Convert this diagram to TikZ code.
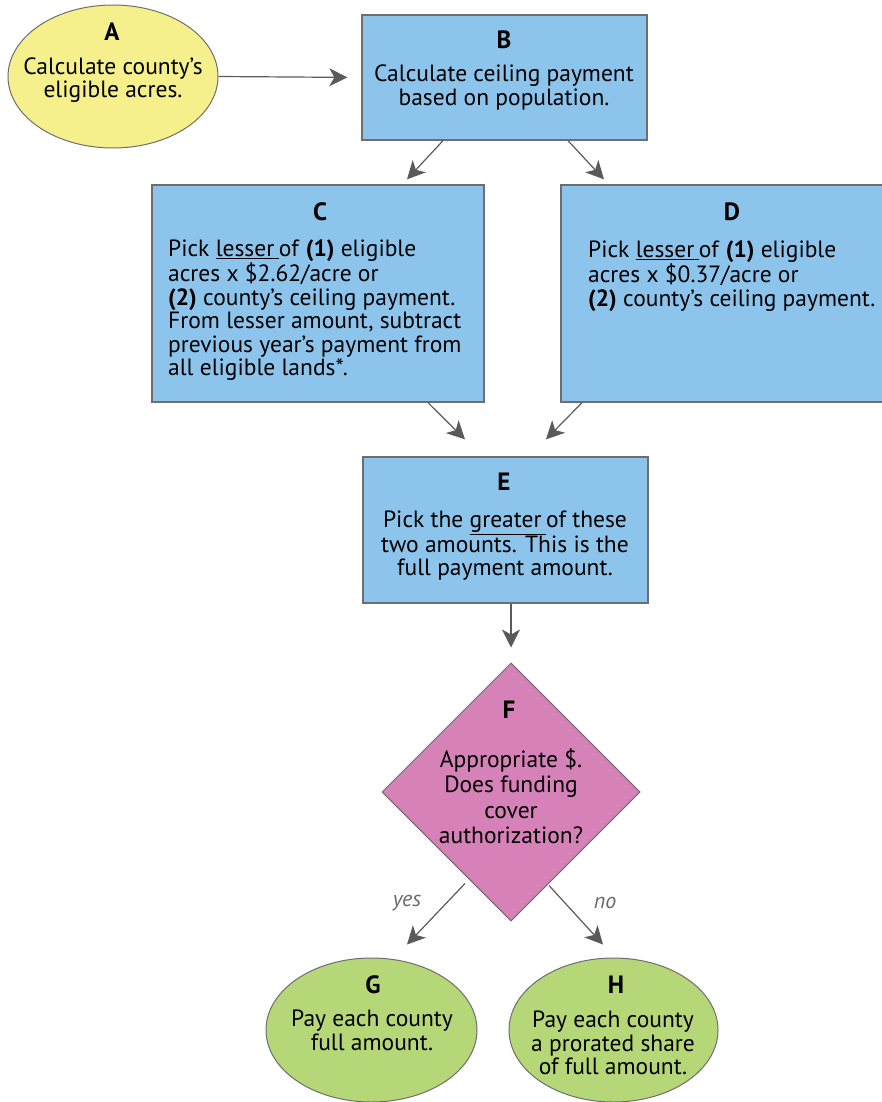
\documentclass[tikz,border=0pt]{standalone}
\usepackage{fontspec}
\setmainfont{PT Sans}
\usetikzlibrary{arrows.meta,shapes.geometric}
\definecolor{yel}{HTML}{F5F08C}
\definecolor{blu}{HTML}{8CC4EC}
\definecolor{pnk}{HTML}{D681B8}
\definecolor{grn}{HTML}{B5D778}
\definecolor{edgegray}{HTML}{6E6E6E}
\definecolor{arrgray}{HTML}{5A5A5A}
\definecolor{lblgray}{HTML}{6A6A6A}
\newcommand{\ul}[1]{\underline{#1\hspace{0.2em}}}
\begin{document}
\begin{tikzpicture}[x=1pt,y=-1pt,
  shapebox/.style={draw=edgegray,line width=1.3pt,fill=blu,rectangle,inner sep=0pt},
  oval/.style={draw=edgegray,line width=1pt,ellipse,inner sep=0pt},
  title/.style={font=\fontsize{25}{28}\selectfont\bfseries,inner sep=0pt},
  body/.style={font=\fontsize{23.5}{23.5}\selectfont,inner sep=0pt},
  conn/.style={draw=arrgray,line width=1.2pt,-{Stealth[length=18pt,width=18pt,inset=5pt]}},
  lbl/.style={font=\fontsize{22}{24}\selectfont\itshape,text=lblgray,inner sep=0pt}]
\useasboundingbox (0,0) rectangle (881,1102);
% shapes
\node[oval,fill=yel,minimum width=210pt,minimum height=143pt] (A) at (113,76.5) {};
\node[shapebox,minimum width=285pt,minimum height=125pt] (B) at (504.5,77.5) {};
\node[shapebox,minimum width=332pt,minimum height=217pt] (C) at (318,293.5) {};
\node[shapebox,minimum width=330pt,minimum height=217pt] (D) at (726,293.5) {};
\node[shapebox,minimum width=285pt,minimum height=146pt] (E) at (505.5,530) {};
\node[draw=edgegray,line width=1pt,fill=pnk,diamond,inner sep=0pt,minimum width=258pt,minimum height=258pt] (F) at (511,792) {};
\node[oval,fill=grn,minimum width=211pt,minimum height=144pt] (G) at (371.5,1030) {};
\node[oval,fill=grn,minimum width=209pt,minimum height=144pt] (H) at (613.5,1030) {};
% titles
\node[title] (tA) at (112,32) {A};
\node[title] (tB) at (504,40) {B};
\node[title] (tC) at (320,212) {C};
\node[title] (tD) at (732,212) {D};
\node[title] (tE) at (504,482) {E};
\node[title] (tF) at (509,710) {F};
\node[title] (tG) at (373,985) {G};
\node[title] (tH) at (616,985) {H};
% texts
\node[body,align=center] (xA) at (113,80) {Calculate county’s\\eligible acres.};
\node[body,align=center] (xB) at (504,87.5) {Calculate ceiling payment\\based on population.};
\node[body,align=left,anchor=west] (xC) at (168,310.5) {Pick \ul{lesser}of \textbf{(1)} eligible\\acres x \$2.62/acre or\\\textbf{(2)} county’s ceiling payment.\\From lesser amount, subtract\\previous year’s payment from\\all eligible lands*.};
\node[body,align=left,anchor=west] (xD) at (588,276) {Pick \ul{lesser}of \textbf{(1)} eligible\\acres x \$0.37/acre or\\\textbf{(2)} county’s ceiling payment.};
\node[body,align=center] (xE) at (505,546) {Pick the \ul{greater}of these\\two amounts. This is the\\full payment amount.};
\node[body,align=center,font=\fontsize{23.5}{25.5}\selectfont] (xF) at (511,796) {Appropriate \$.\\Does funding\\cover\\authorization?};
\node[body,align=center] (xG) at (372,1030.5) {Pay each county\\full amount.};
\node[body,align=center] (xH) at (613,1043) {Pay each county\\a prorated share\\of full amount.};
% connectors
\draw[conn,shorten >=14pt] (A.east) -- (B.west);
\draw[conn] ([xshift=-61.5pt]B.south) -- ([xshift=89pt,yshift=5pt]C.north);
\draw[conn] ([xshift=63.5pt]B.south) -- ([xshift=-122pt,yshift=5pt]D.north);
\draw[conn] ([xshift=110pt]C.south) -- ([xshift=-40.5pt,yshift=17pt]E.north);
\draw[conn] ([xshift=-144pt]D.south) -- ([xshift=40.5pt,yshift=17pt]E.north);
\draw[conn,shorten >=15pt] ([xshift=5.5pt]E.south) -- (F.north);
\draw[conn] ([xshift=-46pt,yshift=38pt]F.south) -- ([xshift=35.5pt,yshift=13pt]G.north);
\draw[conn] ([xshift=38pt,yshift=36pt]F.south) -- ([xshift=-10.5pt,yshift=13pt]H.north);
\node[lbl] (yes) at (407,903) {yes};
\node[lbl] (no) at (605,903) {no};
\end{tikzpicture}
\end{document}
